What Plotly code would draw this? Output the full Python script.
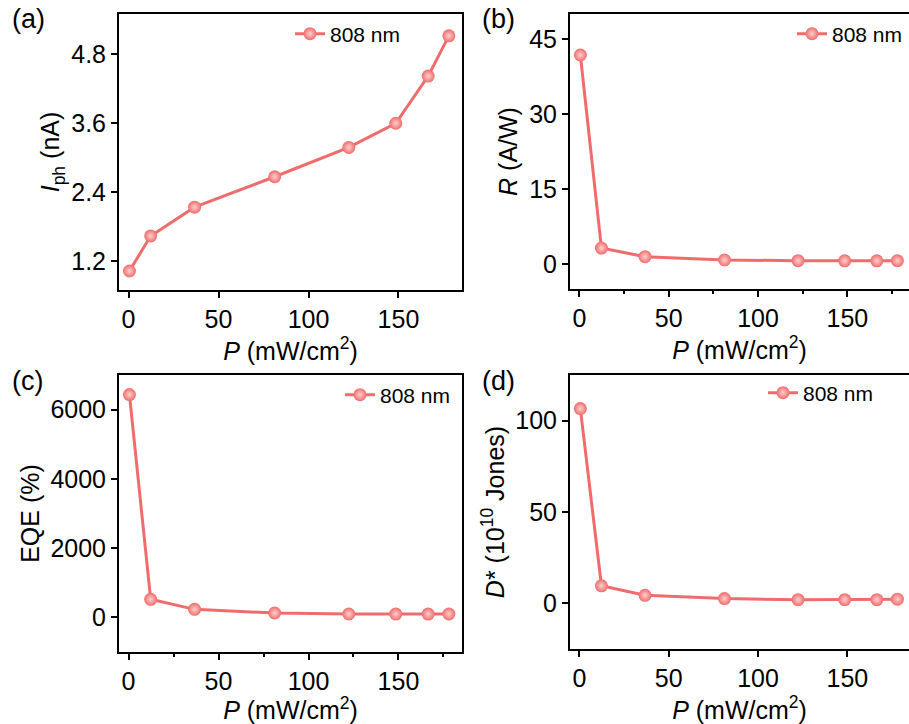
import plotly.graph_objects as go

# Incident power density (mW/cm^2), shared by all four panels
power = [0.5, 12.3, 36.7, 81.2, 122.4, 148.5, 166.5, 178.0]

# (a) photocurrent, nA
photocurrent = [1.03, 1.64, 2.14, 2.67, 3.18, 3.60, 4.42, 5.12]
# (b) responsivity, A/W
responsivity = [41.8, 3.19, 1.46, 0.80, 0.66, 0.64, 0.64, 0.66]
# (c) external quantum efficiency, %
eqe = [6435, 522, 232, 126, 97, 94, 96, 98]
# (d) specific detectivity, 10^10 Jones
detectivity = [106.6, 9.6, 4.4, 2.6, 2.0, 2.0, 2.0, 2.3]

series_name = "808 nm"
panel_labels = ["(a)", "(b)", "(c)", "(d)"]
y_titles = [
    "<i>I</i><sub>ph</sub> (nA)",
    "<i>R</i> (A/W)",
    "EQE (%)",
    "<i>D</i>* (10<sup>10</sup> Jones)",
]
x_title = "<i>P</i> (mW/cm<sup>2</sup>)"

W, H = 909, 724
FONT = "Liberation Sans, Arial, sans-serif"
RED = "#F06C6C"


def px_x(a, b):
    return [a / W, b / W]


def px_y(top, bottom):
    return [1 - bottom / H, 1 - top / H]


panels = [
    dict(vals=photocurrent, xd=px_x(119, 462), yd=px_y(14, 290),
         xr=[-5.3, 185.3], yr=[0.7, 5.5], dtick=1.2, fmt=".1f",
         minor=False, right=True, leg=(290, 34), lab=(10, 2)),
    dict(vals=responsivity, xd=px_x(570, 909), yd=px_y(14, 289),
         xr=[-5.3, 184.5], yr=[-5, 50], dtick=15, fmt="d",
         minor=True, right=False, leg=(792, 34), lab=(480, 2)),
    dict(vals=eqe, xd=px_x(119, 462), yd=px_y(375, 652),
         xr=[-5.3, 185.3], yr=[-1000, 7000], dtick=2000, fmt="d",
         minor=True, right=True, leg=(340, 395), lab=(10, 364)),
    dict(vals=detectivity, xd=px_x(570, 909), yd=px_y(375, 649),
         xr=[-5.3, 184.5], yr=[-25, 125], dtick=50, fmt="d",
         minor=False, right=False, leg=(763, 393), lab=(480, 364)),
]

fig = go.Figure()
layout = dict(
    width=W, height=H,
    margin=dict(l=0, r=0, t=0, b=0),
    paper_bgcolor="white", plot_bgcolor="white",
    font=dict(family=FONT, color="black"),
    showlegend=True,
    annotations=[],
)

for i, p in enumerate(panels):
    n = i + 1
    sfx = "" if n == 1 else str(n)
    leg_name = "legend" if n == 1 else f"legend{n}"
    fig.add_trace(go.Scatter(
        x=power, y=p["vals"], name=series_name, mode="lines+markers",
        line=dict(color=RED, width=3),
        marker=dict(size=13, color=RED, line=dict(width=0),
                    gradient=dict(type="radial", color="#FFCFCF")),
        xaxis=f"x{sfx}", yaxis=f"y{sfx}", legend=leg_name,
        cliponaxis=False,
    ))
    axis_common = dict(
        showline=True, linecolor="black", linewidth=2,
        ticks="outside", ticklen=6, tickwidth=2, tickcolor="black",
        showgrid=False, zeroline=False,
        tickfont=dict(family=FONT, size=25, color="black"),
    )
    xa = dict(axis_common, domain=p["xd"], range=p["xr"], anchor=f"y{sfx}",
              tick0=0, dtick=50, mirror=True,
              title=dict(text=x_title, font=dict(family=FONT, size=25), standoff=0))
    if p["minor"]:
        xa["minor"] = dict(ticks="outside", ticklen=3, tickwidth=2,
                           tickcolor="black", dtick=25, tick0=0)
    ya = dict(axis_common, domain=p["yd"], range=p["yr"], anchor=f"x{sfx}",
              tick0=0, dtick=p["dtick"], tickformat=p["fmt"],
              mirror=p["right"],
              title=dict(text=y_titles[i], font=dict(family=FONT, size=25), standoff=4))
    layout[f"xaxis{sfx}"] = xa
    layout[f"yaxis{sfx}"] = ya
    lx, ly = p["leg"]
    layout[leg_name] = dict(
        x=lx / W, y=1 - ly / H, xanchor="left", yanchor="middle",
        bgcolor="rgba(0,0,0,0)", borderwidth=0,
        font=dict(family=FONT, size=21, color="black"),
    )
    ax, ay = p["lab"]
    layout["annotations"].append(dict(
        text=panel_labels[i], x=ax / W, y=1 - ay / H, xref="paper", yref="paper",
        xanchor="left", yanchor="top", showarrow=False,
        font=dict(family=FONT, size=27, color="black"),
    ))

fig.update_layout(**layout)
fig.write_html("out.html")
